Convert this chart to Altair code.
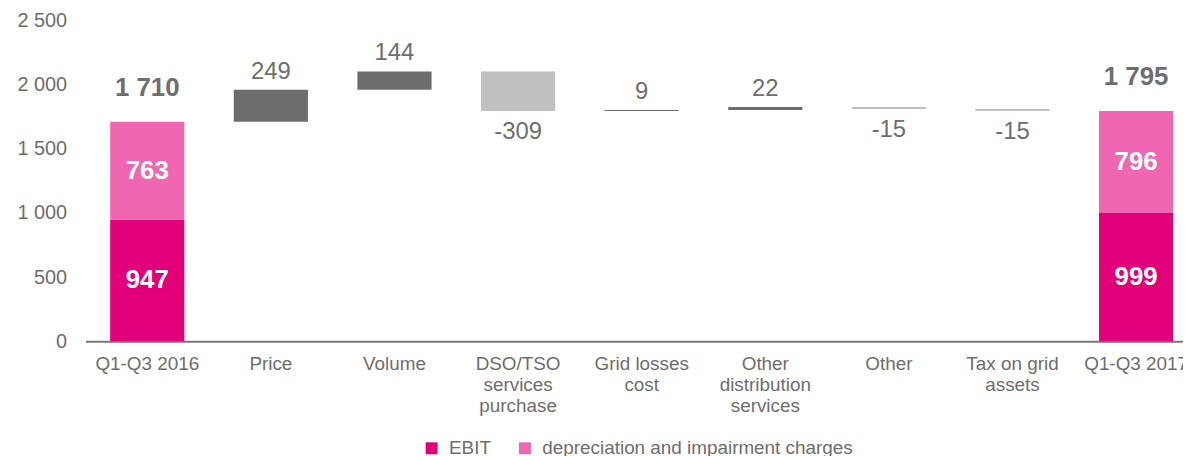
import altair as alt
import pandas as pd

# ---- data ----
categories = ["Q1-Q3 2016", "Price", "Volume", "DSO/TSO\nservices\npurchase",
              "Grid losses\ncost", "Other\ndistribution\nservices", "Other",
              "Tax on grid\nassets", "Q1-Q3 2017"]
series_names = ["EBIT", "depreciation and impairment charges"]
start_ebit = 947
start_dep = 763
step_values = [249, 144, -309, 9, 22, -15, -15]
end_ebit = 999
end_dep = 796
y_ticks = [0, 500, 1000, 1500, 2000, 2500]

MAGENTA = "#E2007A"
PINK = "#EF67B0"
DARK = "#6D6D6D"
LIGHT = "#C0C0C0"
TXT = "#6E6E6E"
FONT = "Liberation Sans"

# ---- tables derived from the arrays ----
tot_rows = []
for cat, ebit, dep in [(categories[0], start_ebit, start_dep), (categories[-1], end_ebit, end_dep)]:
    tot_rows.append(dict(cat=cat, series=series_names[0], y0=0, y1=ebit, mid=ebit / 2, value=ebit, total=ebit + dep))
    tot_rows.append(dict(cat=cat, series=series_names[1], y0=ebit, y1=ebit + dep, mid=ebit + dep / 2, value=dep, total=ebit + dep))
tot = pd.DataFrame(tot_rows)

run = start_ebit + start_dep
step_rows = []
for cat, v in zip(categories[1:-1], step_values):
    step_rows.append(dict(cat=cat, start=run, end=run + v, value=v))
    run += v
steps = pd.DataFrame(step_rows)

# ---- shared encodings ----
x_enc = alt.X("cat:N", sort=categories, title=None,
              scale=alt.Scale(range=[0, 1120], paddingInner=0.4, paddingOuter=0.2),
              axis=alt.Axis(labelExpr="split(datum.label, '\\n')", labelAngle=0,
                            labelFontSize=19, labelColor=TXT, labelFont=FONT,
                            labelLineHeight=21.5, labelPadding=13, labelBaseline="top",
                            ticks=False, domainColor="#777777", domainWidth=2,
                            labelOverlap=False, labelBound=False, labelFlush=False,
                            labelLimit=0, grid=False))
y_scale = alt.Scale(domain=[0, 2500], nice=False, zero=True)
y_axis = alt.Axis(values=y_ticks, labelExpr="replace(format(datum.value, ','), ',', ' ')",
                  labelFontSize=20, labelColor=TXT, labelFont=FONT, labelPadding=19,
                  ticks=False, domain=False, grid=False)


def Y(field):
    return alt.Y(field, type="quantitative", scale=y_scale, axis=y_axis, title=None)


totals = alt.Chart(tot).mark_bar().encode(
    x=x_enc,
    y=Y("y0"),
    y2="y1:Q",
    color=alt.Color("series:N", scale=alt.Scale(domain=series_names, range=[MAGENTA, PINK]),
                    sort=series_names,
                    legend=alt.Legend(title=None, orient="none", direction="horizontal",
                                      legendX=339, legendY=421, symbolType="square",
                                      symbolSize=144, symbolStrokeWidth=0, symbolOpacity=1,
                                      labelFontSize=19, labelColor=TXT, labelFont=FONT,
                                      labelOffset=8, columnPadding=24, labelLimit=500)),
    order=alt.Order("y0:Q"),
)

deltas = alt.Chart(steps).mark_bar().encode(
    x=x_enc,
    y=Y("start"),
    y2="end:Q",
    color=alt.condition("datum.value > 0", alt.value(DARK), alt.value(LIGHT)),
)

step_text = alt.Chart(steps).transform_calculate(lbl="'' + datum.value")

pos_labels = step_text.transform_filter("datum.value > 0").mark_text(
    baseline="middle", dy=-18, fontSize=24, font=FONT, color=TXT
).encode(x=x_enc, y=Y("end"), text="lbl:N")

neg_labels = step_text.transform_filter("datum.value < 0").mark_text(
    baseline="middle", dy=21, fontSize=24, font=FONT, color=TXT
).encode(x=x_enc, y=Y("end"), text="lbl:N")

total_labels = alt.Chart(tot).transform_filter(
    alt.datum.series == series_names[1]
).transform_calculate(
    lbl="replace(format(datum.total, ','), ',', ' ')"
).mark_text(baseline="middle", dy=-34, fontSize=26, fontWeight="bold", font=FONT, color=TXT).encode(
    x=x_enc, y=Y("y1"), text="lbl:N"
)

inner_labels = alt.Chart(tot).transform_calculate(lbl="'' + datum.value").mark_text(
    baseline="middle", fontSize=26, fontWeight="bold", font=FONT, color="white"
).encode(x=x_enc, y=Y("mid"), text="lbl:N")

chart = alt.layer(totals, deltas, pos_labels, neg_labels, total_labels, inner_labels).properties(
    width=1105, height=323,
    background="white",
    autosize=alt.AutoSizeParams(type="none"),
    padding={"left": 78, "top": 11, "right": 0, "bottom": 114},
).configure_view(strokeWidth=0, stroke="transparent").configure_axis(grid=False)

chart.save("out.html", embed_options={"renderer": "svg", "actions": False})
